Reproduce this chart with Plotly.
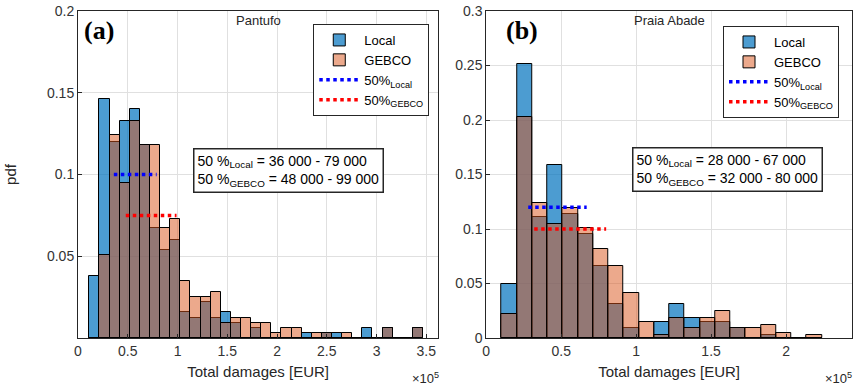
import plotly.graph_objects as go

# histogram bins (EUR) and pdf values
pantufo_bin_start = 11330
pantufo_bin_width = 10160
pantufo_local = [0.038, 0.146, 0.120, 0.133, 0.140, 0.118, 0.067, 0.054, 0.060, 0.016, 0.012,
                 0.022, 0.012, 0.016, 0.009, 0.0, 0.006, 0.0, 0.0, 0.0, 0.0, 0.003,
                 0.0, 0.003, 0.003, 0.0, 0.0, 0.006, 0.0, 0.006, 0.0, 0.0, 0.006]
pantufo_gebco = [0.0, 0.051, 0.124, 0.095, 0.133, 0.118, 0.118, 0.067, 0.073, 0.035, 0.025,
                 0.025, 0.028, 0.009, 0.012, 0.012, 0.009, 0.009, 0.003, 0.006, 0.006, 0.0,
                 0.003, 0.003, 0.0, 0.003, 0.0, 0.0, 0.0, 0.006, 0.0, 0.0, 0.006]

praia_bin_start = 10200
praia_bin_width = 10180
praia_local = [0.050, 0.251, 0.111, 0.159, 0.114, 0.095, 0.066, 0.031, 0.009, 0.0, 0.015,
               0.031, 0.018, 0.015, 0.015, 0.009, 0.0, 0.003, 0.0, 0.0, 0.0]
praia_gebco = [0.022, 0.203, 0.124, 0.105, 0.119, 0.101, 0.082, 0.066, 0.041, 0.015, 0.003,
               0.018, 0.009, 0.018, 0.025, 0.009, 0.009, 0.012, 0.005, 0.0, 0.003]

# 50 % ranges: [low, high] and the pdf level they are drawn at
pantufo_q_local = [36000, 79000]
pantufo_q_gebco = [48000, 99000]
pantufo_q_levels = [0.1, 0.075]
praia_q_local = [28000, 67000]
praia_q_gebco = [32000, 80000]
praia_q_levels = [0.12, 0.1]

xtick_vals_a = [0, 50000, 100000, 150000, 200000, 250000, 300000, 350000]
xtick_text_a = ["0", "0.5", "1", "1.5", "2", "2.5", "3", "3.5"]
xtick_vals_b = [0, 50000, 100000, 150000, 200000]
xtick_text_b = ["0", "0.5", "1", "1.5", "2"]
ytick_vals_a = [0.05, 0.1, 0.15, 0.2]
ytick_text_a = ["0.05", "0.1", "0.15", "0.2"]
ytick_vals_b = [0, 0.05, 0.1, 0.15, 0.2, 0.25, 0.3]
ytick_text_b = ["0", "0.05", "0.1", "0.15", "0.2", "0.25", "0.3"]

BLUE = "rgba(0,114,189,0.7)"
ORANGE = "rgba(217,83,25,0.5)"
TXT = "#262626"
FONT = "Liberation Sans, Arial, sans-serif"

# layout positions below are given in screenshot pixels
W, H = 861, 390
ML, MR, MT, MB = 77.5, 9, 11, 52
PW, PH = W - ML - MR, H - MT - MB


def px(x):
    return (x - ML) / PW


def py(y):
    return (H - MB - y) / PH


fig = go.Figure()


def add_panel(fig, xa, ya, leg, start, width, local, gebco, q_local, q_gebco, levels):
    centers = [start + width * (i + 0.5) for i in range(len(local))]
    fig.add_trace(go.Bar(x=centers, y=local, width=width, name="Local",
                         marker=dict(color=BLUE, line=dict(color="black", width=1)),
                         xaxis=xa, yaxis=ya, legend=leg))
    fig.add_trace(go.Bar(x=centers, y=gebco, width=width, name="GEBCO",
                         marker=dict(color=ORANGE, line=dict(color="black", width=1)),
                         xaxis=xa, yaxis=ya, legend=leg))
    fig.add_trace(go.Scatter(x=q_local, y=[levels[0]] * 2, mode="lines",
                             name="50%<sub>Local</sub>",
                             line=dict(color="blue", width=3.5, dash="dot"),
                             xaxis=xa, yaxis=ya, legend=leg))
    fig.add_trace(go.Scatter(x=q_gebco, y=[levels[1]] * 2, mode="lines",
                             name="50%<sub>GEBCO</sub>",
                             line=dict(color="red", width=3.5, dash="dot"),
                             xaxis=xa, yaxis=ya, legend=leg))


add_panel(fig, "x", "y", "legend", pantufo_bin_start, pantufo_bin_width,
          pantufo_local, pantufo_gebco, pantufo_q_local, pantufo_q_gebco, pantufo_q_levels)
add_panel(fig, "x2", "y2", "legend2", praia_bin_start, praia_bin_width,
          praia_local, praia_gebco, praia_q_local, praia_q_gebco, praia_q_levels)

dom_a = [0, px(438)]
dom_b = [px(486), 1]

axis_common = dict(showline=True, mirror=True, linecolor=TXT, linewidth=1,
                   ticks="inside", ticklen=4, tickcolor=TXT, automargin=False,
                   ticklabeloverflow="allow",
                   showgrid=True, gridcolor="#e0e0e0", gridwidth=1, zeroline=False,
                   tickfont=dict(family=FONT, size=14, color="#333333"))
xtitle = dict(text="Total damages [EUR]", font=dict(family=FONT, size=15, color=TXT), standoff=8)

fig.update_layout(
    width=W, height=H, margin=dict(l=ML, r=MR, t=MT, b=MB, autoexpand=False),
    paper_bgcolor="white", plot_bgcolor="white",
    barmode="overlay", bargap=0,
    font=dict(family=FONT, color=TXT),
    xaxis=dict(domain=dom_a, range=[0, 362000], tickvals=xtick_vals_a, ticktext=xtick_text_a,
               title=xtitle, anchor="y", **axis_common),
    yaxis=dict(range=[0, 0.2], tickvals=ytick_vals_a, ticktext=ytick_text_a,
               title=dict(text="pdf", font=dict(family=FONT, size=15, color=TXT), standoff=26),
               anchor="x", **axis_common),
    xaxis2=dict(domain=dom_b, range=[0, 244000], tickvals=xtick_vals_b, ticktext=xtick_text_b,
                title=xtitle, anchor="y2", **axis_common),
    yaxis2=dict(range=[0, 0.3], tickvals=ytick_vals_b, ticktext=ytick_text_b,
                anchor="x2", **axis_common),
    legend=dict(x=px(429), y=py(24), xanchor="right", yanchor="top",
                bgcolor="white", bordercolor=TXT, borderwidth=1,
                font=dict(family=FONT, size=13, color="black"), itemwidth=40,
                tracegroupgap=0),
    legend2=dict(x=px(839), y=py(26), xanchor="right", yanchor="top",
                 bgcolor="white", bordercolor=TXT, borderwidth=1,
                 font=dict(family=FONT, size=13, color="black"), itemwidth=40,
                 tracegroupgap=0),
)

annos = [
    dict(text="Pantufo", x=(dom_a[0] + dom_a[1]) / 2, y=py(21), font=dict(size=13)),
    dict(text="Praia Abade", x=(dom_b[0] + dom_b[1]) / 2, y=py(21), font=dict(size=13)),
    dict(text="<b>(a)</b>", x=px(82), y=py(30), xanchor="left",
         font=dict(family="Liberation Serif, Times New Roman, serif", size=26, color="black")),
    dict(text="<b>(b)</b>", x=px(504), y=py(30), xanchor="left",
         font=dict(family="Liberation Serif, Times New Roman, serif", size=26, color="black")),
    dict(text="50 %<sub>Local</sub> = 36 000 - 79 000<br>50 %<sub>GEBCO</sub> = 48 000 - 99 000",
         x=px(193), y=py(148), xanchor="left", yanchor="top", align="left",
         bgcolor="white", bordercolor=TXT, borderwidth=1.5, borderpad=3,
         font=dict(size=14, color="black")),
    dict(text="50 %<sub>Local</sub> = 28 000 - 67 000<br>50 %<sub>GEBCO</sub> = 32 000 - 80 000",
         x=px(632), y=py(147), xanchor="left", yanchor="top", align="left",
         bgcolor="white", bordercolor=TXT, borderwidth=1.5, borderpad=3,
         font=dict(size=14, color="black")),
    dict(text="×10<sup>5</sup>", x=px(441), y=py(378), xanchor="right", yanchor="middle",
         font=dict(size=13)),
    dict(text="×10<sup>5</sup>", x=px(854), y=py(378), xanchor="right", yanchor="middle",
         font=dict(size=13)),
]
for a in annos:
    a.setdefault("xref", "paper")
    a.setdefault("yref", "paper")
    a.setdefault("showarrow", False)
    a.setdefault("yanchor", "middle")
    a.setdefault("xanchor", "center")
    fig.add_annotation(**a)

# drop the default 8px page margin so the figure fills the window exactly
fig.write_html("out.html", config=dict(displayModeBar=False),
               post_script="document.body.style.margin = '0';")
